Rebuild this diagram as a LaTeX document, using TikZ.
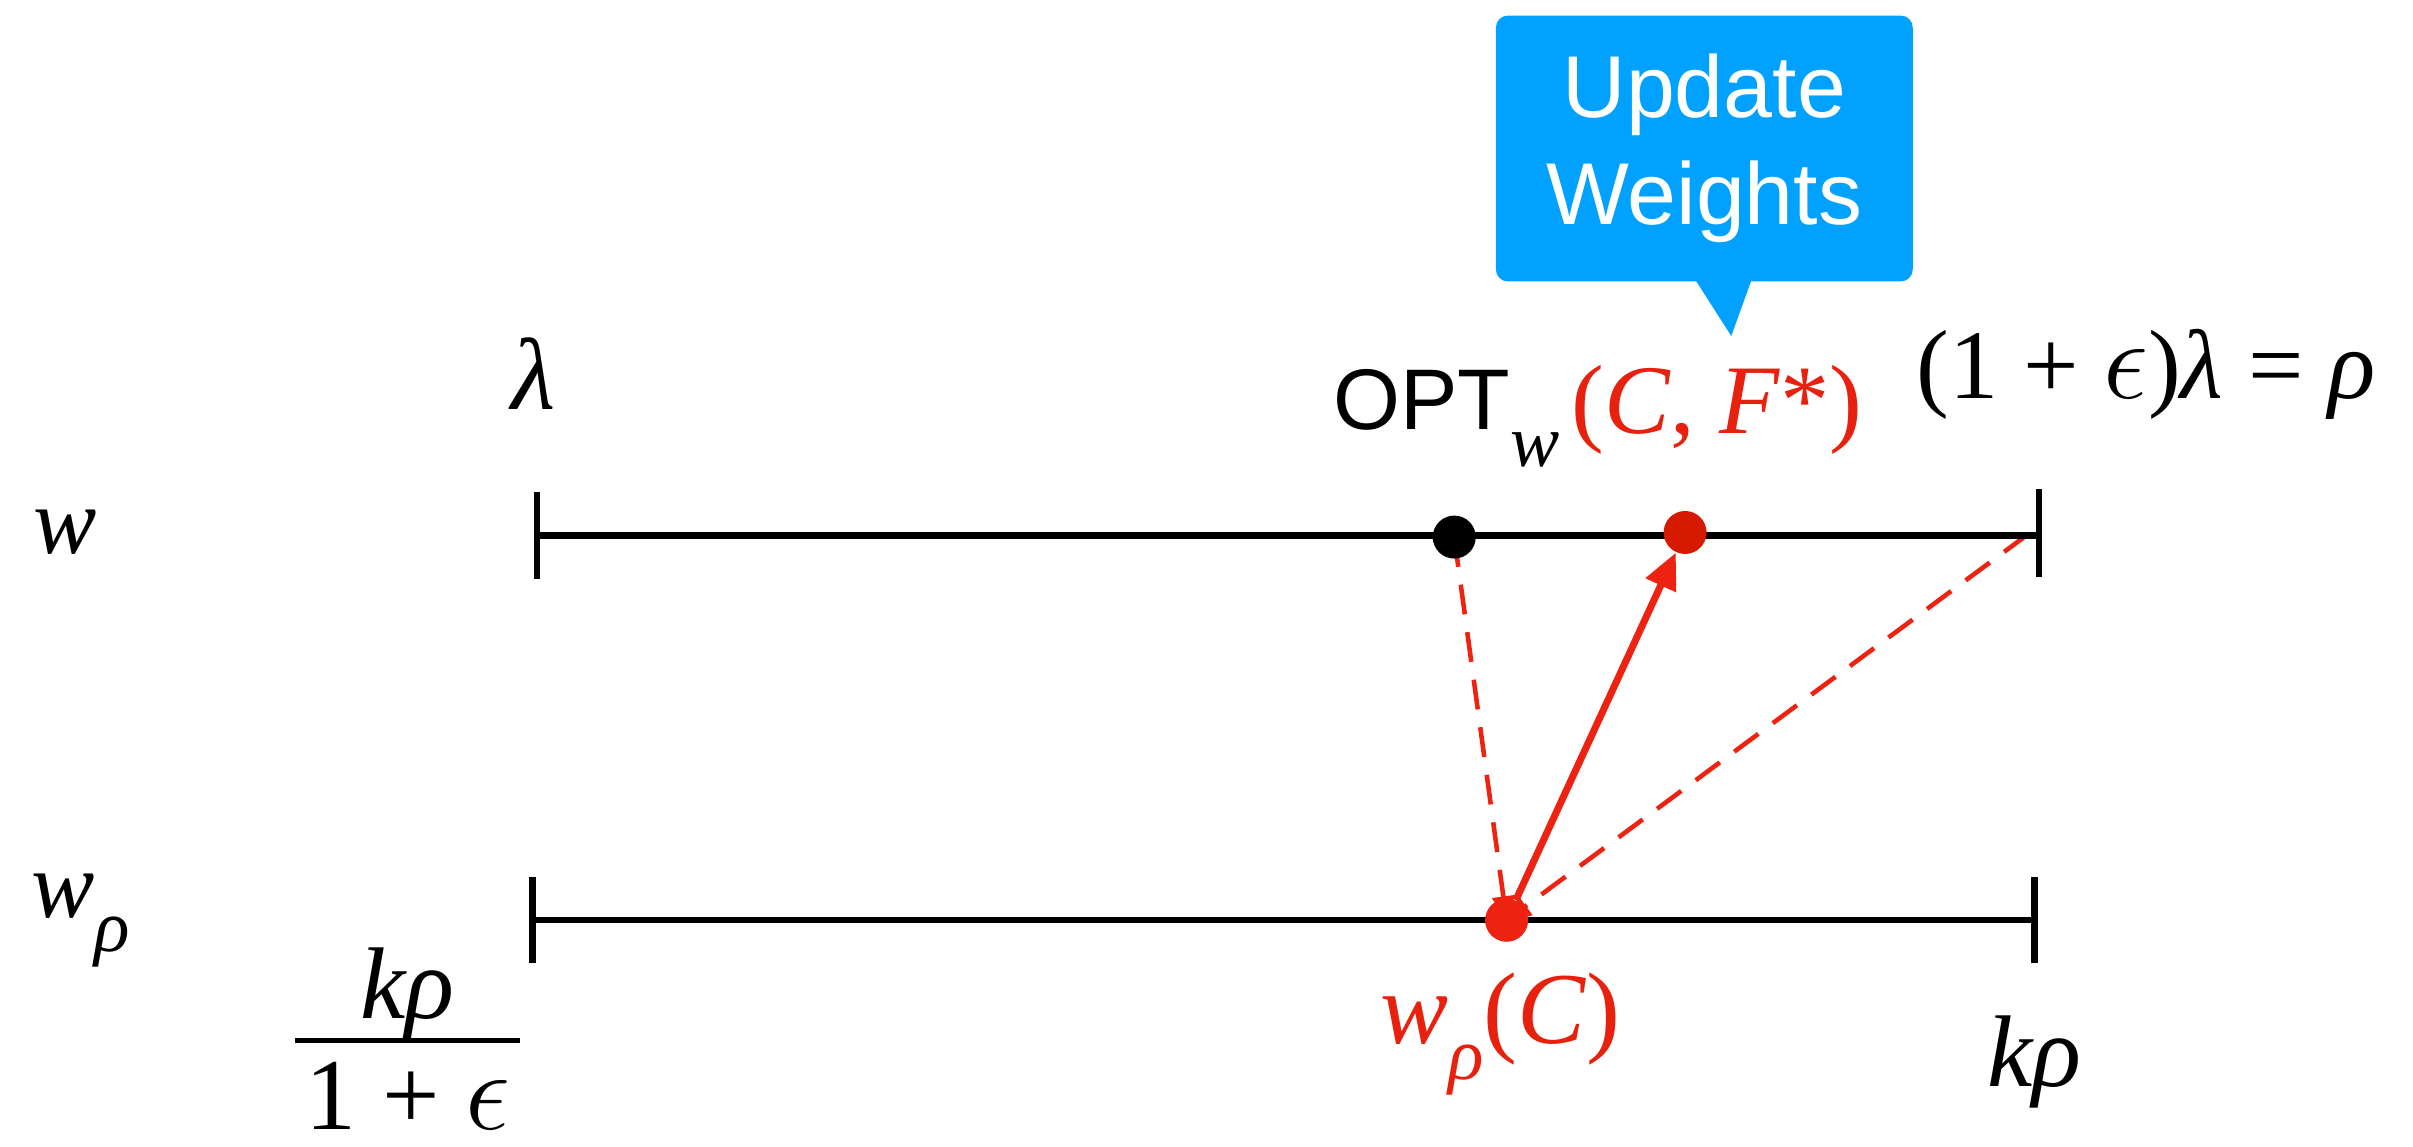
\documentclass[tikz,border=0pt]{standalone}
\usepackage{fontspec}
\usepackage{graphicx}
\setmainfont{Liberation Serif}
\newfontfamily\hsans{Liberation Sans}
\usetikzlibrary{arrows.meta,calc}
\pgfdeclarelayer{background}
\pgfsetlayers{background,main}
\definecolor{calloutblue}{RGB}{0,161,255}
\definecolor{dotred}{RGB}{214,26,0}
\definecolor{linered}{RGB}{238,34,17}
\definecolor{txtred}{RGB}{232,32,14}
\newcommand{\mi}[1]{\textit{#1}}
\newcommand{\subsz}[1]{\raisebox{-0.36em}{\fontsize{21}{22}\selectfont\textit{#1}}}
\newcommand{\eps}{\scalebox{1.3}{$\epsilon$}}
\tikzset{
  lbl/.style={inner sep=0pt, font=\fontsize{29}{33}\selectfont},
  axisline/.style={line width=1.8pt, black},
  dotnode/.style={circle, inner sep=0pt, minimum size=0.43cm},
  reddash/.style={linered, line width=1.3pt, dash pattern=on 0.3cm off 0.18cm},
  callout/.style={fill=calloutblue, rounded corners=0.12cm, inner sep=0pt,
    minimum width=4.17cm, minimum height=2.66cm, text=white, align=center,
    font=\hsans\fontsize{25}{30.5}\selectfont}
}
\begin{document}
\begin{tikzpicture}[x=0.01539cm,y=-0.01539cm]
\useasboundingbox (0,0) rectangle (1568,745);

% axis coordinates
\coordinate (tl) at (349,348);
\coordinate (tr) at (1325,348);
\coordinate (trd) at (1318,347);
\coordinate (bl) at (346,598);
\coordinate (br) at (1322,598);

% axes
\draw[axisline] (tl) -- (tr);
\draw[axisline] (tl) ++(0,-28) -- ++(0,56);
\draw[axisline] (tr) ++(0,-30) -- ++(0,57);
\draw[axisline] (bl) -- (br);
\draw[axisline] (bl) ++(0,-28) -- ++(0,56);
\draw[axisline] (br) ++(0,-28) -- ++(0,56);

% dots
\node[dotnode, fill=black] (opt) at (945,349) {};
\node[dotnode, fill=dotred] (cf) at (1095,346) {};
\node[dotnode, fill=linered] (wc) at (979,598) {};

% connectors
\begin{pgfonlayer}{background}
\draw[reddash, -{Triangle[length=0.24cm,width=0.22cm]}] (opt.center) -- (wc.center);
\draw[reddash, -{Triangle[length=0.24cm,width=0.22cm]}] (trd) -- (wc.center);
\end{pgfonlayer}
\draw[linered, line width=2pt, -{Triangle[length=0.36cm,width=0.32cm]}] (wc) -- (cf);

% labels
\node[lbl, font=\fontsize{27}{30}\selectfont] (wlab) at (42,346) {\mi{w}};
\node[lbl, anchor=west, font=\fontsize{27}{30}\selectfont] (wrlab) at (20,598) {\mi{w}\subsz{ρ}};
\node[lbl] (lam) at (347,243) {\mi{λ}};
\node[lbl, anchor=west, font=\fontsize{28}{32}\selectfont] (eqlab) at (1245,243) {(1 + \eps)\mi{λ} = \mi{ρ}};
\node[lbl, anchor=west] (optlab) at (866,272) {{\hsans\fontsize{24.5}{28}\selectfont OPT}\subsz{w}};
\node[lbl, anchor=west, text=txtred, font=\fontsize{28}{32}\selectfont] (cflab) at (1021,266) {(\mi{C}, \mi{F}*)};
\node[lbl] (num) at (265,646) {\mi{kρ}};
\node[lbl] (den) at (265,712) {1 + \eps};
\coordinate (fl) at (192,676);
\coordinate (fr) at (338,676);
\draw[line width=1.4pt] (fl) -- (fr);
\node[lbl, text=txtred] (wclab) at (975,672) {\mi{w}\subsz{ρ}(\mi{C})};
\node[lbl] (krho) at (1322,690) {\mi{kρ}};

% callout
\node[callout] (upd) at (1107.5,96.5) {Update\\Weights};
\fill[calloutblue] ($(upd.south)+(-5.5,-1)$) -- ($(upd.south)+(30.5,-1)$) -- ($(upd.south)+(17.5,35)$) -- cycle;
\end{tikzpicture}
\end{document}
